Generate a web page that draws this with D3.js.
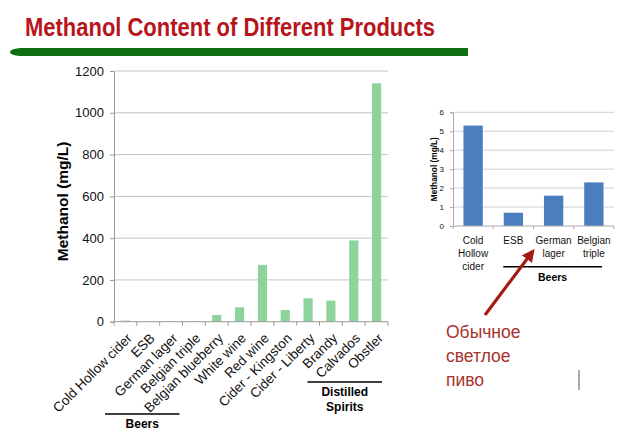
<!DOCTYPE html>
<html>
<head>
<meta charset="utf-8">
<script src="https://cdn.jsdelivr.net/npm/d3@7"></script>
<style>
  body { margin: 0; background: #fff; }
  svg { display: block; font-family: "Liberation Sans", Arial, sans-serif; }
</style>
</head>
<body>
<svg id="chart" width="640" height="435"></svg>
<script>
// main chart data (mg/L)
const products = ['Cold Hollow cider', 'ESB', 'German lager', 'Belgian triple', 'Belgian blueberry',
  'White wine', 'Red wine', 'Cider - Kingston', 'Cider - Liberty', 'Brandy', 'Calvados', 'Obstler'];
const methanol = [5.3, 0.7, 1.6, 2.3, 32, 69, 272, 56, 112, 101, 389, 1141];
const mainTicks = [0, 200, 400, 600, 800, 1000, 1200];

// inset chart data (beers only)
const beerLabels = [['Cold', 'Hollow', 'cider'], ['ESB'], ['German', 'lager'], ['Belgian', 'triple']];
const beerValues = [5.3, 0.7, 1.6, 2.3];
const insetTicks = [0, 1, 2, 3, 4, 5, 6];

const note = ['Обычное', 'светлое', 'пиво'];

const svg = d3.select('#chart');

// title + green rule
svg.append('text').attr('x', 25).attr('y', 36)
  .attr('textLength', 410).attr('lengthAdjust', 'spacingAndGlyphs')
  .style('font-size', '25px').style('font-weight', 'bold').style('fill', '#b8141c')
  .text('Methanol Content of Different Products');
svg.append('path')
  .attr('d', 'M468,48 L20,48 Q10,49 10,52 Q10,55 20,56 L468,56 Z')
  .style('fill', '#0d6e12');

// ---------- main chart ----------
const m = { left: 114, right: 388, top: 71, bottom: 321.7 };
const x = d3.scaleBand().domain(products).range([m.left, m.right]).paddingInner(0.6).paddingOuter(0.3);
const xb = d3.scaleBand().domain(products).range([m.left, m.right]);
const y = d3.scaleLinear().domain([0, 1200]).range([m.bottom, m.top]);

svg.append('g').selectAll('line').data(mainTicks.slice(1)).enter().append('line')
  .attr('x1', m.left).attr('x2', m.right).attr('y1', d => y(d)).attr('y2', d => y(d))
  .style('stroke', '#c4c4c4');

const yAxis = svg.append('g').attr('transform', `translate(${m.left},0)`)
  .call(d3.axisLeft(y).tickValues(mainTicks).tickFormat(d3.format('d')).tickSize(4).tickPadding(6));
yAxis.select('.domain').style('stroke', '#999');
yAxis.selectAll('line').style('stroke', '#999');
yAxis.selectAll('text').style('font-size', '13px').style('fill', '#111').style('font-family', 'inherit');

svg.append('g').selectAll('rect').data(methanol).enter().append('rect')
  .attr('x', (d, i) => x(products[i]))
  .attr('y', d => y(d))
  .attr('width', x.bandwidth())
  .attr('height', d => m.bottom - y(d))
  .style('fill', '#8dd39b');

svg.append('line').attr('x1', m.left).attr('x2', m.right).attr('y1', m.bottom).attr('y2', m.bottom)
  .style('stroke', '#999');
svg.append('g').selectAll('line').data(products.concat([null])).enter().append('line')
  .attr('x1', (d, i) => m.left + i * xb.bandwidth()).attr('x2', (d, i) => m.left + i * xb.bandwidth())
  .attr('y1', m.bottom).attr('y2', m.bottom + 4).style('stroke', '#999');

svg.append('g').selectAll('text').data(products).enter().append('text')
  .attr('transform', d => `translate(${xb(d) + xb.bandwidth() / 2 + 4},${m.bottom + 14}) rotate(-45)`)
  .attr('text-anchor', 'end').attr('dy', '0.35em')
  .style('font-size', '13.5px').style('fill', '#111')
  .text(d => d);

svg.append('text').attr('transform', `translate(68,${(m.top + m.bottom) / 2 + 5}) rotate(-90)`)
  .attr('text-anchor', 'middle').style('font-size', '15.5px').style('font-weight', 'bold')
  .text('Methanol (mg/L)');

// group brackets
const groups = [
  { lines: ['Beers'], from: 0, to: 2, dl: -9, dr: -3, ly: 414 },
  { lines: ['Distilled', 'Spirits'], from: 9, to: 11, dl: -12, dr: -6, ly: 382 }
];
groups.forEach(g => {
  const x0 = xb(products[g.from]) + g.dl, x1 = xb(products[g.to]) + xb.bandwidth() + g.dr;
  svg.append('line').attr('x1', x0).attr('x2', x1).attr('y1', g.ly).attr('y2', g.ly)
    .style('stroke', '#000').style('stroke-width', 1.6);
  g.lines.forEach((t, i) => svg.append('text').attr('x', (x0 + x1) / 2).attr('y', g.ly + 14 + i * 15)
    .attr('text-anchor', 'middle').style('font-size', '12px').style('font-weight', 'bold').text(t));
});

// ---------- inset chart ----------
const n = { left: 453, right: 614, top: 112.3, bottom: 226 };
const bx = d3.scaleBand().domain(d3.range(beerValues.length)).range([n.left, n.right]).paddingInner(0.52).paddingOuter(0.26);
const bxb = d3.scaleBand().domain(d3.range(beerValues.length)).range([n.left, n.right]);
const by = d3.scaleLinear().domain([0, 6]).range([n.bottom, n.top]);

svg.append('g').selectAll('line').data(insetTicks.slice(1)).enter().append('line')
  .attr('x1', n.left).attr('x2', n.right).attr('y1', d => by(d)).attr('y2', d => by(d))
  .style('stroke', '#d0d0d0');

const byAxis = svg.append('g').attr('transform', `translate(${n.left},0)`)
  .call(d3.axisLeft(by).tickValues(insetTicks).tickFormat(d3.format('d')).tickSize(3).tickPadding(6));
byAxis.select('.domain').style('stroke', '#aaa');
byAxis.selectAll('line').style('stroke', '#aaa');
byAxis.selectAll('text').style('font-size', '8px').style('fill', '#111').style('font-family', 'inherit');

svg.append('g').selectAll('rect').data(beerValues).enter().append('rect')
  .attr('x', (d, i) => bx(i)).attr('y', d => by(d))
  .attr('width', bx.bandwidth()).attr('height', d => n.bottom - by(d))
  .style('fill', '#4a7ebf');

svg.append('line').attr('x1', n.left).attr('x2', n.right).attr('y1', n.bottom).attr('y2', n.bottom)
  .style('stroke', '#aaa');
svg.append('g').selectAll('line').data(d3.range(beerValues.length + 1)).enter().append('line')
  .attr('x1', i => n.left + i * bxb.bandwidth()).attr('x2', i => n.left + i * bxb.bandwidth())
  .attr('y1', n.bottom).attr('y2', n.bottom + 3).style('stroke', '#aaa');

svg.append('g').selectAll('text').data(beerLabels).enter().append('text')
  .attr('x', (d, i) => bxb(i) + bxb.bandwidth() / 2).attr('y', 243.5)
  .attr('text-anchor', 'middle').style('font-size', '10px').style('fill', '#111')
  .each(function (d) {
    d.forEach((t, k) => d3.select(this).append('tspan')
      .attr('x', d3.select(this).attr('x')).attr('dy', k ? 13 : 0).text(t));
  });

svg.append('text').attr('transform', `translate(437,${(n.top + n.bottom) / 2}) rotate(-90)`)
  .attr('text-anchor', 'middle').style('font-size', '8.3px').style('font-weight', 'bold')
  .text('Methanol (mg/L)');

const bl = bxb(1) + 10, br = n.right - 12;
svg.append('line').attr('x1', bl).attr('x2', br).attr('y1', 266.7).attr('y2', 266.7)
  .style('stroke', '#000').style('stroke-width', 1.4);
svg.append('text').attr('x', (bl + br) / 2).attr('y', 281).attr('text-anchor', 'middle')
  .style('font-size', '10.5px').style('font-weight', 'bold').text('Beers');

// arrow + note
svg.append('defs').append('marker').attr('id', 'head').attr('viewBox', '0 0 10 10')
  .attr('refX', 8).attr('refY', 5).attr('markerWidth', 4).attr('markerHeight', 4)
  .attr('orient', 'auto').append('path').attr('d', 'M0,0 L10,5 L0,10 Z').style('fill', '#a31a12');
svg.append('line').attr('x1', 485).attr('y1', 315).attr('x2', 533).attr('y2', 251)
  .style('stroke', '#a31a12').style('stroke-width', 3.2).attr('marker-end', 'url(#head)');

svg.append('g').selectAll('text').data(note).enter().append('text')
  .attr('x', 446).attr('y', (d, i) => 338 + i * 24)
  .style('font-size', '17.5px').style('fill', '#a8322d').text(d => d);

svg.append('line').attr('x1', 579).attr('x2', 579).attr('y1', 370).attr('y2', 390)
  .style('stroke', '#555').style('stroke-width', 1);
</script>
</body>
</html>
